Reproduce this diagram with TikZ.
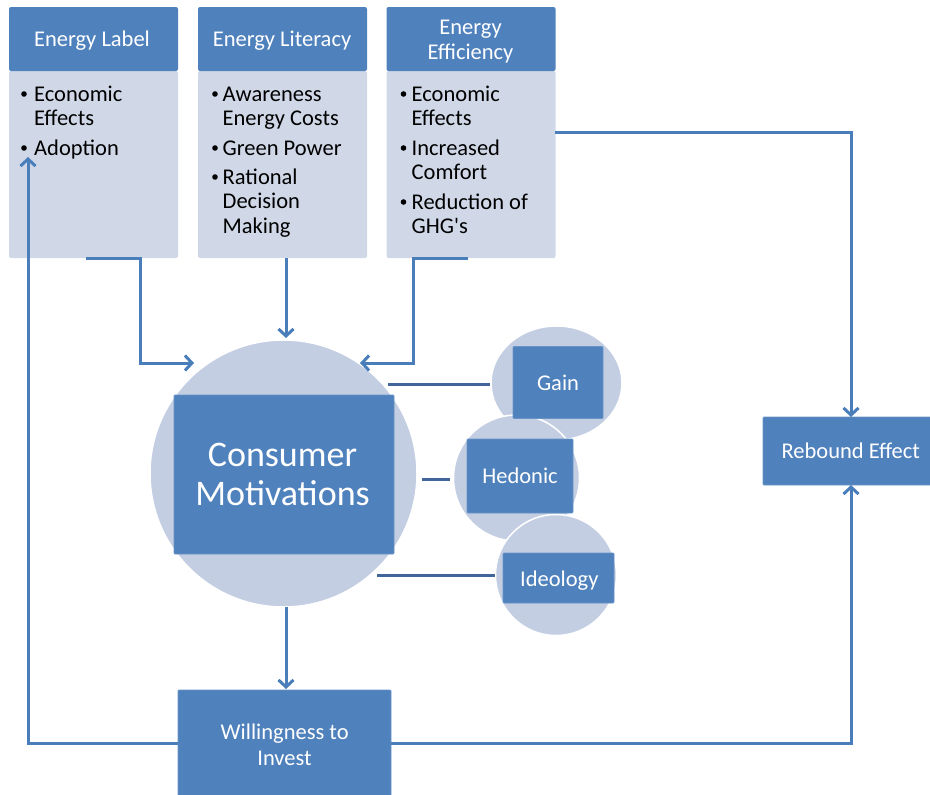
\documentclass[tikz,border=0pt]{standalone}
\usepackage{fontspec}
\setmainfont{Carlito}[Ligatures=TeXOff]
\usetikzlibrary{arrows.meta,shapes.geometric}
\definecolor{hdrblue}{HTML}{4F81BD}
\definecolor{bodyblue}{HTML}{D0D8E8}
\definecolor{discblue}{HTML}{C3CEE3}
\definecolor{linkblue}{HTML}{4A7EBB}
\definecolor{darkblue}{HTML}{41679A}

\begin{document}
\begin{tikzpicture}[x=1pt,y=-1pt,
  hdr/.style={rectangle, fill=hdrblue, rounded corners=2pt, minimum width=169pt, inner sep=0pt},
  bodybox/.style={rectangle, fill=bodyblue, rounded corners=2pt, minimum width=169pt, inner sep=0pt},
  disc/.style={circle, fill=discblue, draw=white, line width=1.5pt, inner sep=0pt},
  oval/.style={ellipse, fill=discblue, draw=white, line width=1.5pt, inner sep=0pt},
  tile/.style={rectangle, fill=hdrblue, draw=hdrblue!85!white, line width=0.8pt, rounded corners=1pt, inner sep=0pt},
  wtxt/.style={text=white, font=\fontsize{22.5}{24.5}\selectfont, inner sep=0pt, anchor=base},
  bigtxt/.style={text=white, font=\fontsize{36}{40}\selectfont, inner sep=0pt, anchor=base},
  btxt/.style={text=black, font=\fontsize{22.5}{24.5}\selectfont, inner sep=0pt, anchor=base west},
  dot/.style={circle, fill=black, inner sep=0pt, minimum size=5.6pt},
  arr/.style={draw=linkblue, line width=3pt, line join=miter, -{Straight Barb[length=7pt,width=15pt]}},
  tie/.style={draw=darkblue, line width=3pt},
]
\useasboundingbox (0,0) rectangle (930,795);

% three source boxes: body first, header on top
\node[bodybox, minimum height=187pt] (b1) at (93.5,164.5) {};
\node[hdr, minimum height=64pt] (h1) at (93.5,39) {};
\node[bodybox, minimum height=187pt] (b2) at (282.5,164.5) {};
\node[hdr, minimum height=64pt] (h2) at (282.5,39) {};
\node[bodybox, minimum height=187pt] (b3) at (471,164.5) {};
\node[hdr, minimum height=64pt] (h3) at (471,39) {};

% header titles
\node[wtxt] (t1) at (92,46.7) {Energy Label};
\node[wtxt] (t2) at (282,46.7) {Energy Literacy};
\node[wtxt] (t3a) at (470.5,34.3) {Energy};
\node[wtxt] (t3b) at (470.5,59.5) {Efficiency};

% bullet lists
\node[dot] (d11) at (24,94) {};
\node[btxt] (l11) at (34,101) {Economic};
\node[btxt] (l12) at (34,125.5) {Effects};
\node[dot] (d12) at (24,148) {};
\node[btxt] (l13) at (34,155) {Adoption};

\node[dot] (d21) at (215,94) {};
\node[btxt] (l21) at (222.5,101) {Awareness};
\node[btxt] (l22) at (222.5,125.5) {Energy Costs};
\node[dot] (d22) at (215,148) {};
\node[btxt] (l23) at (222.5,155) {Green Power};
\node[dot] (d23) at (215,177) {};
\node[btxt] (l24) at (222.5,184) {Rational};
\node[btxt] (l25) at (222.5,208.5) {Decision};
\node[btxt] (l26) at (222.5,233) {Making};

\node[dot] (d31) at (403.5,94) {};
\node[btxt] (l31) at (411.5,101) {Economic};
\node[btxt] (l32) at (411.5,125.5) {Effects};
\node[dot] (d32) at (403.5,148) {};
\node[btxt] (l33) at (411.5,155) {Increased};
\node[btxt] (l34) at (411.5,179.5) {Comfort};
\node[dot] (d33) at (403.5,202) {};
\node[btxt] (l35) at (411.5,209) {Reduction of};
\node[btxt] (l36) at (411.5,233.5) {GHG's};

% central motivation disc
\node[disc, minimum size=267pt] (mc) at (283.5,473.5) {};
\node[tile, minimum width=220pt, minimum height=159pt] (ms) at (284,474.5) {};
\node[bigtxt] (mt1) at (282.5,466.7) {Consumer};
\node[bigtxt] (mt2) at (282.5,505.7) {Motivations};

% motive discs
\node[oval, minimum width=131pt, minimum height=114pt] (gc) at (556.5,383) {};
\node[disc, minimum size=126pt] (hc) at (516.5,478) {};
\node[disc, minimum size=121pt] (ic) at (556,575) {};
\node[tile, minimum width=90pt, minimum height=72pt] (gs) at (558,382.5) {};
\node[tile, minimum width=106pt, minimum height=74pt] (hs) at (520,476) {};
\node[tile, minimum width=111pt, minimum height=50pt] (is) at (558.5,578) {};
\node[wtxt] (gt) at (558,390) {Gain};
\node[wtxt] (ht) at (520,483.3) {Hedonic};
\node[wtxt] (it) at (559.3,586) {Ideology};

% outcome boxes
\node[tile, minimum width=176pt, minimum height=68pt] (rb) at (851,451) {};
\node[wtxt] (rt) at (850.8,458.3) {Rebound Effect};
\node[tile, minimum width=213pt, minimum height=112pt] (wi) at (284.5,746) {};
\node[wtxt] (wt1) at (284.7,739.3) {Willingness to};
\node[wtxt] (wt2) at (284.5,765) {Invest};

% connector end points
\coordinate (b1out) at (86,258);
\coordinate (b2out) at (286,258);
\coordinate (b3out) at (468,258);
\coordinate (b3side) at (555,132);
\coordinate (mcin1) at (194,363);
\coordinate (mcin2) at (286,338);
\coordinate (mcin3) at (360,363);
\coordinate (mcout) at (286,607);
\coordinate (wiin) at (286,689);
\coordinate (wiR) at (391,743);
\coordinate (wiL) at (178,743);
\coordinate (rbtop) at (851,417);
\coordinate (rbbot) at (851,485);
\coordinate (b1in) at (28,157);

% connectors
\draw[arr] (b1out) -- (140,258) |- (mcin1);
\draw[arr] (b2out) -- (mcin2);
\draw[arr] (b3out) -- (413,258) |- (mcin3);
\draw[arr] (b3side) -| (rbtop);
\draw[arr] (mcout) -- (wiin);
\draw[arr] (wiR) -| (rbbot);
\draw[arr] (wiL) -| (b1in);

% ties from the central disc to the motives
\coordinate (tg) at (388,384.5);
\coordinate (th) at (422,479);
\coordinate (ti) at (377,575);
\draw[tie] (tg) -- (gc.west |- tg);
\draw[tie] (th) -- (450,479);
\draw[tie] (ti) -- (ic.west |- ti);
\end{tikzpicture}
\end{document}
